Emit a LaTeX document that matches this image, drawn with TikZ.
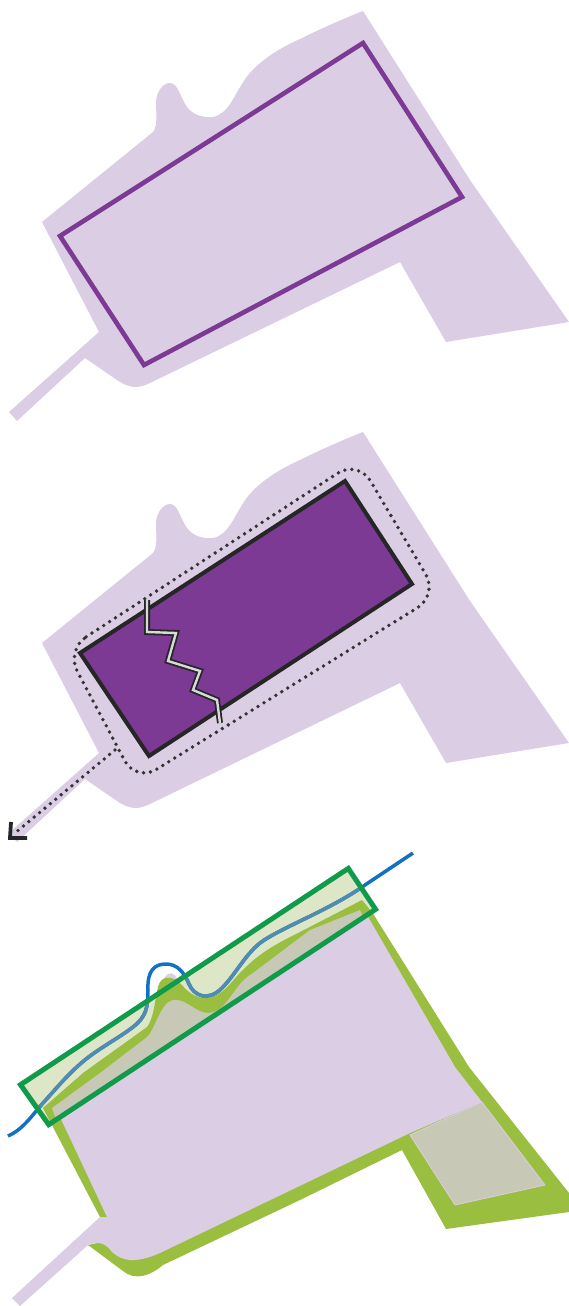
\documentclass[tikz,border=0pt]{standalone}
\usepackage{xcolor}
\definecolor{sitecolor}{RGB}{218,205,228}
\definecolor{purplecolor}{RGB}{124,58,148}
\definecolor{rimcolor}{RGB}{154,191,64}
\definecolor{stripcolor}{RGB}{221,230,198}
\definecolor{greycolor}{RGB}{200,200,182}
\definecolor{framecolor}{RGB}{15,155,75}
\definecolor{bluecolor}{RGB}{20,112,192}
\definecolor{mutedcolor}{RGB}{80,140,175}
\newcommand{\sitepath}{(363,11) -- (470,180) -- (569,322) -- (446,342) -- (400,262) -- (152,382)
  .. controls (140,388) and (132,390) .. (117,380) -- (85,358) -- (17,421) -- (9,412) -- (99,332)
  -- (42,222) -- (153,132) .. controls (158,126) and (156,112) .. (156,103)
  .. controls (156,92) and (163,83) .. (170,83) .. controls (178,83) and (180,97) .. (187,107)
  .. controls (193,115) and (203,118) .. (213,117) .. controls (228,114) and (234,96) .. (242,84)
  .. controls (252,66) and (275,50) .. (300,39) .. controls (320,29) and (345,18) .. (363,11) -- cycle}
\newcommand{\streampath}{(streamin) .. controls (22,1130) and (30,1118) .. (43,1103)
  .. controls (56,1089) and (70,1071) .. (90,1056)
  .. controls (105,1045) and (120,1037) .. (133,1027)
  .. controls (146,1017) and (148,1008) .. (148,990)
  .. controls (147,970) and (155,964) .. (166,964)
  .. controls (177,964) and (184,972) .. (189,984)
  .. controls (194,996) and (208,1002) .. (222,988)
  .. controls (235,975) and (245,955) .. (260,943)
  .. controls (280,928) and (330,910) .. (365,885) -- (streamout)}
\newcommand{\framepath}{(20.5,1084.7) -- (348.3,868.4) -- (375.6,909.3) -- (48.7,1124.6) -- cycle}
\begin{document}
\begin{tikzpicture}[
    x=1pt, y=-1pt,
    site/.style={fill=sitecolor},
    plotline/.style={draw=purplecolor, line width=4.6pt},
    building/.style={draw=black!85, fill=purplecolor, line width=4pt},
    dots/.style={draw=black!80, line width=3.8pt, line cap=round, dash pattern=on 0pt off 7pt},
    jointline/.style={draw=black!85, double=white!85!black, double distance=2.4pt, line width=1.8pt},
    frame/.style={draw=framecolor, line width=5pt},
    stream/.style={line width=3.5pt}
  ]
  \useasboundingbox (0,0) rectangle (569,1306);

  % Top panel
  \fill[site] \sitepath;
  \draw[plotline] (60,236) -- (363,43) -- (462,197) -- (144,365) -- cycle;

  % Middle panel
  \begin{scope}[shift={(0,421)}]
    \fill[site] \sitepath;
  \end{scope}
  \draw[building] (80,653) -- (345,481) -- (412,584) -- (149,756) -- cycle;
  \draw[jointline] (147,600) -- (147,632) -- (176,633) -- (168,661) -- (200,671)
    -- (193,690) -- (217,700) -- (220,723);
  \draw[dots, rounded corners=24pt] (66,650) -- (358,460) -- (438,595) -- (136,782) -- cycle;
  \coordinate (outlet) at (115,750);
  \coordinate (drain) at (15,833);
  \draw[dots] (outlet) -- (drain);
  \draw[draw=black!85, line width=3.8pt] (11,822) -- (10,838) -- (27,838);

  % Bottom panel
  \fill[stripcolor] \framepath;
  \fill[site] (163,982) .. controls (165,972) and (175,969) .. (178,982) -- cycle;
  \fill[rimcolor] (43,1108) -- (83,1073) -- (147,1027)
    .. controls (156,1015) and (155,990) .. (160,982)
    .. controls (165,975) and (175,977) .. (182,985)
    .. controls (190,995) and (200,999) .. (207,998)
    .. controls (225,995) and (230,982) .. (243,970)
    .. controls (260,952) and (280,942) .. (300,932)
    -- (362,900) -- (372,912) -- (469,1067) -- (569,1193) -- (569,1212) -- (446,1229) -- (402,1150)
    -- (300,1200) -- (163,1265) .. controls (150,1276) and (135,1281) .. (123,1271)
    -- (88,1245) -- (97,1243) -- (107,1217) -- (100,1217) -- cycle;
  \fill[site] (100,1217) -- (12,1298) -- (20,1306) -- (88,1245)
    .. controls (100,1240) and (107,1245) .. (112,1252)
    .. controls (122,1261) and (135,1264) .. (160,1253)
    -- (410,1133) -- (482,1102) -- (455,1067) -- (367,915) -- (60,1117) -- (107,1217) -- cycle;
  \fill[greycolor] (52,1108) -- (100,1073) -- (147,1037)
    .. controls (156,1028) and (160,1003) .. (173,1000)
    .. controls (185,998) and (195,1012) .. (207,1013)
    .. controls (228,1013) and (232,985) .. (253,973)
    -- (310,930) -- (360,910) -- (363,917) -- (56,1119.5) -- cycle;
  \fill[greycolor, draw=sitecolor, line width=0.8pt] (410,1135) -- (482,1102) -- (545,1185) -- (455,1205) -- cycle;
  \coordinate (streamin) at (8,1136);
  \coordinate (streamout) at (413,853);
  \draw[stream, bluecolor] \streampath;
  \begin{scope}
    \clip \framepath;
    \draw[stream, mutedcolor] \streampath;
  \end{scope}
  \draw[frame] \framepath;
\end{tikzpicture}
\end{document}
